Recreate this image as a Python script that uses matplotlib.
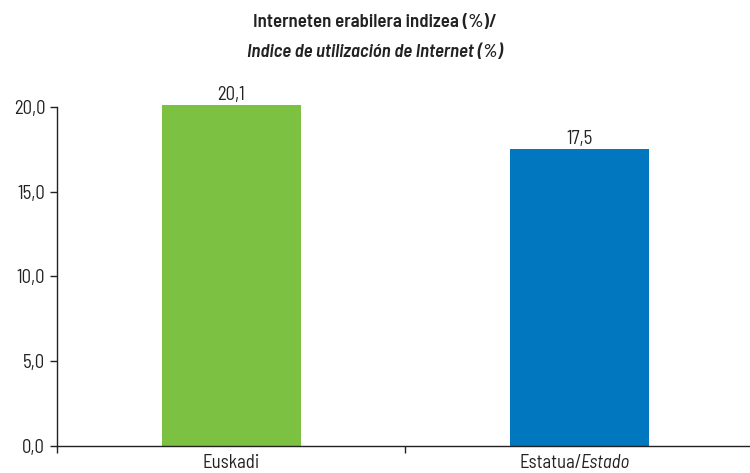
import matplotlib
matplotlib.use("Agg")
import matplotlib.pyplot as plt
from matplotlib import font_manager

categories = ["Euskadi", "Estatua/Estado"]
values = [20.1, 17.5]
value_labels = ["20,1", "17,5"]
yticks = [0, 5, 10, 15, 20]
ytick_labels = ["0,0", "5,0", "10,0", "15,0", "20,0"]
colors = ["#7DC142", "#0077BF"]

# condensed face if we have one, else Liberation Sans
names = {f.name for f in font_manager.fontManager.ttflist}
family = "Liberation Sans"
for cand in ["Barlow Semi Condensed", "Barlow Condensed"]:
    if cand in names:
        family = cand
        break
plt.rcParams["font.family"] = [family, "DejaVu Sans"]
TXT = "#222222"
FS = 13.5

fig = plt.figure(figsize=(7.5, 4.73), dpi=100)
ax = fig.add_axes([0.076, 0.057, 0.929, 0.717])

x = range(len(categories))
ax.bar(x, values, width=0.4, color=colors, clip_on=False, zorder=2)
for xi, v, lab in zip(x, values, value_labels):
    ax.annotate(lab, (xi, v), xytext=(0, 1), textcoords="offset points",
                ha="center", va="bottom", fontsize=FS, color=TXT,
                annotation_clip=False)

ax.set_xlim(-0.5, 1.5)
ax.set_ylim(0, 20)
ax.set_yticks(yticks)
ax.set_yticklabels(ytick_labels, fontsize=FS, color=TXT)
ax.set_xticks([-0.5, 0.5, 1.5])
ax.set_xticklabels([])
ax.tick_params(axis="both", direction="out", length=5, width=1, color=TXT)

# category labels, second one is half italic
trans = ax.get_xaxis_transform()
ax.annotate("Euskadi", (0, 0), xycoords=trans, xytext=(0, -6),
            textcoords="offset points", ha="center", va="top",
            fontsize=FS, color=TXT, annotation_clip=False)
ax.annotate("Estatua/", (1, 0), xycoords=trans, xytext=(2, -6),
            textcoords="offset points", ha="right", va="top",
            fontsize=FS, color=TXT, annotation_clip=False)
ax.annotate("Estado", (1, 0), xycoords=trans, xytext=(1, -6),
            textcoords="offset points", ha="left", va="top",
            fontsize=FS, color=TXT, style="italic", annotation_clip=False)

for s in ["top", "right"]:
    ax.spines[s].set_visible(False)
for s in ["left", "bottom"]:
    ax.spines[s].set_color(TXT)
    ax.spines[s].set_linewidth(1)

fig.text(0.5, 0.952, "Interneten erabilera indizea (%)/", ha="center", va="center",
         fontsize=FS, fontweight=600, color=TXT)
fig.text(0.5, 0.889, "Indice de utilización de Internet (%)", ha="center", va="center",
         fontsize=FS, fontweight=600, style="italic", color=TXT)

fig.savefig("out.png", dpi=100)
